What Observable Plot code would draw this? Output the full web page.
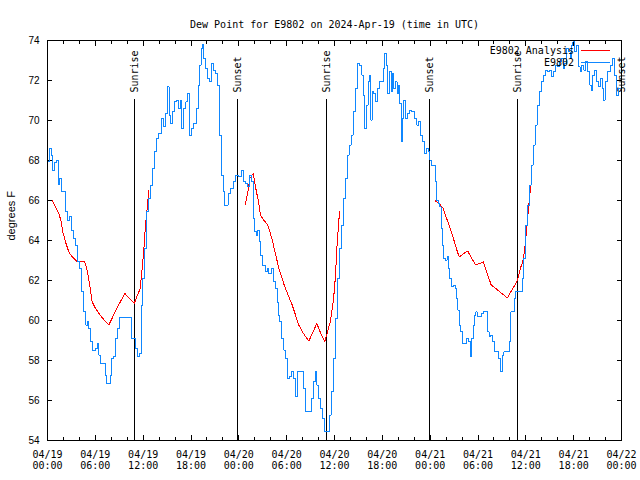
<!DOCTYPE html>
<html>
<head>
<meta charset="utf-8">
<script src="https://cdn.jsdelivr.net/npm/d3@7"></script>
<script src="https://cdn.jsdelivr.net/npm/@observablehq/plot@0.6"></script>
<style>
  body { margin: 0; background: #fff; }
  #wrap { position: relative; width: 640px; height: 480px; }
  #legend { position: absolute; left: 470px; top: 44px; font: 10px "DejaVu Sans Mono", monospace; color: #000; }
  .row { display: flex; align-items: center; height: 12px; }
  .row span { display: inline-block; width: 104px; text-align: right; white-space: pre; }
  .sw { width: 29px; height: 1px; margin-left: 7px; }
</style>
</head>
<body>
<div id="wrap"></div>
<script>
// ---- data (hours since 2024-04-19 00:00 UTC, degrees F) ----
const titleText = "Dew Point for E9802 on 2024-Apr-19 (time in UTC)";
const yLabel = "degrees F";
const seriesNames = ["E9802 Analysis", "E9802"];
const yTicks = [54, 56, 58, 60, 62, 64, 66, 68, 70, 72, 74];
const xMajorHours = [0, 6, 12, 18, 24, 30, 36, 42, 48, 54, 60, 66, 72];
const xMinorHours = [0,2,4,6,8,10,12,14,16,18,20,22,24,26,28,30,32,34,36,38,40,42,44,46,48,50,52,54,56,58,60,62,64,66,68,70,72];
const sunHours = [10.95, 23.87, 35.04, 47.96, 58.99, 72.0];
const sunLabels = ["Sunrise", "Sunset", "Sunrise", "Sunset", "Sunrise", "Sunset"];

const observed = [
[0.09,67.93],[0.34,68.6],[0.59,68.27],[0.75,67.5],[1.00,67.9],[1.22,68.0],[1.42,66.8],[1.59,67.1],[1.84,66.45],[2.17,66.45],
[2.42,65.43],[2.67,65.0],[2.92,65.2],[3.10,64.5],[3.35,64.1],[3.60,63.77],[3.85,62.93],[4.18,62.6],[4.43,61.43],[4.68,60.43],
[4.93,59.77],[5.11,59.93],[5.27,59.6],[5.52,58.93],[5.77,58.52],[6.27,58.6],[6.36,58.85],[6.52,58.27],[6.69,57.85],[7.19,57.85],
[7.36,57.27],[7.53,56.85],[7.78,56.85],[7.94,57.27],[8.19,58.1],[8.44,58.2],[8.62,59.1],[8.87,59.6],[9.19,60.13],[10.45,60.13],
[10.62,59.1],[10.95,59.1],[11.20,58.6],[11.45,58.18],[11.70,58.35],[11.88,60.77],[12.04,62.1],[12.29,63.6],[12.54,65.43],[12.79,66.1],
[13.05,66.77],[13.30,67.6],[13.55,68.43],[13.80,69.1],[14.14,69.35],[14.42,70.1],[14.68,69.68],[14.93,70.35],[15.18,71.68],[15.34,70.27],
[15.52,69.85],[15.77,70.43],[16.02,70.93],[16.27,71.02],[16.52,70.6],[16.77,71.0],[16.93,69.6],[17.19,70.6],[17.52,70.93],[17.69,71.35],
[17.94,69.27],[18.19,69.6],[18.53,69.85],[18.78,70.6],[19.03,71.77],[19.19,72.77],[19.36,73.6],[19.53,73.8],[19.69,73.1],[19.95,72.6],
[20.20,72.1],[20.45,71.93],[20.70,72.85],[20.95,72.52],[21.20,72.35],[21.45,71.77],[21.70,69.27],[21.95,67.27],[22.12,66.43],[22.29,65.77],
[22.54,65.77],[22.79,66.35],[23.12,66.6],[23.46,66.93],[23.80,67.27],[24.12,67.18],[24.46,67.52],[24.71,66.93],[24.96,66.85],[25.21,66.68],
[25.46,67.27],[25.72,66.93],[25.88,65.1],[26.13,64.43],[26.31,64.27],[26.47,64.52],[26.63,63.93],[26.81,63.27],[27.06,62.77],[27.31,62.77],
[27.47,62.43],[27.64,62.6],[27.89,62.35],[28.22,62.6],[28.47,61.93],[28.73,61.6],[28.89,60.9],[29.01,60.27],[29.27,59.93],[29.52,59.1],
[29.77,58.52],[30.02,58.1],[30.27,57.1],[30.44,57.18],[30.70,57.43],[30.95,57.1],[31.20,56.18],[31.45,57.43],[31.95,57.43],[32.20,56.6],
[32.45,55.43],[32.95,55.43],[33.20,56.1],[33.53,56.93],[33.71,57.43],[33.87,56.77],[34.12,56.1],[34.37,55.6],[34.62,55.1],[34.78,54.43],
[35.21,54.43],[35.46,55.27],[35.71,56.43],[35.96,58.1],[36.21,60.1],[36.47,62.1],[36.72,63.6],[36.97,64.77],[37.22,66.1],[37.47,67.1],
[37.72,68.27],[37.97,68.77],[38.22,69.27],[38.47,70.43],[38.72,71.6],[38.97,72.85],[39.30,72.77],[39.55,72.27],[39.73,71.27],[39.89,69.6],
[40.14,70.77],[40.30,71.93],[40.48,72.27],[40.64,70.02],[40.81,71.43],[41.06,71.35],[41.23,70.93],[41.48,71.6],[41.73,71.93],[41.98,71.93],
[42.24,72.6],[42.40,73.35],[42.56,72.77],[42.81,71.35],[43.06,72.43],[43.20,71.43],[43.30,72.35],[43.53,71.6],[43.78,71.93],[43.94,71.35],
[44.12,71.77],[44.28,70.85],[44.44,68.93],[44.62,70.1],[44.78,71.02],[45.03,70.1],[45.28,70.35],[45.54,70.52],[45.87,70.43],[46.20,70.1],
[46.45,69.77],[46.70,69.93],[46.88,69.27],[47.13,68.93],[47.38,68.35],[47.63,68.6],[47.88,68.43],[48.04,68.02],[48.29,67.77],[48.55,67.77],
[48.71,66.93],[48.88,66.0],[49.13,65.85],[49.30,65.68],[49.46,64.6],[49.64,63.77],[49.80,63.1],[50.05,63.02],[50.21,63.18],[50.39,62.6],
[50.55,62.1],[50.80,61.68],[51.05,61.77],[51.22,61.6],[51.39,61.1],[51.56,60.52],[51.72,59.77],[51.97,59.43],[52.15,58.85],[52.47,58.85],
[52.72,59.1],[52.97,58.93],[53.15,58.18],[53.31,59.1],[53.48,59.77],[53.65,60.27],[53.81,60.43],[53.98,60.18],[54.32,60.18],[54.57,60.35],
[54.82,60.43],[55.16,60.43],[55.32,59.43],[55.48,59.18],[55.73,59.27],[55.98,58.93],[56.24,58.43],[56.49,58.43],[56.74,58.1],[56.99,57.43],
[57.16,58.27],[57.33,58.43],[57.87,58.43],[58.04,58.93],[58.21,60.43],[58.46,60.43],[58.62,61.1],[58.79,61.43],[59.46,61.43],[59.62,62.1],
[59.80,63.1],[60.05,64.77],[60.30,65.77],[60.55,66.77],[60.80,67.77],[61.05,68.77],[61.30,69.77],[61.55,70.77],[61.81,71.43],[62.06,71.93],
[62.31,72.27],[62.56,72.52],[62.81,72.43],[63.06,72.52],[63.31,72.18],[63.56,72.43],[63.81,72.77],[64.06,72.68],[64.31,72.93],[64.57,73.1],
[64.82,72.6],[64.98,72.85],[65.23,73.6],[65.48,73.43],[65.64,73.1],[65.82,73.77],[65.98,73.93],[66.23,73.43],[66.48,73.77],[66.73,72.68],
[66.90,72.43],[67.15,72.77],[67.40,72.52],[67.65,72.93],[67.90,72.43],[68.15,71.77],[68.33,71.52],[68.49,72.27],[68.74,72.52],[68.99,71.93],
[69.24,71.68],[69.49,72.1],[69.66,71.6],[69.83,71.02],[70.08,71.93],[70.34,72.43],[70.59,72.43],[70.75,72.77],[71.00,73.1],[71.25,72.27],
[71.50,71.27],[71.75,71.6],[71.92,71.6]
];

const analysis1 = [
[0.59,66.02],[1.00,65.68],[1.42,65.35],[1.67,65.02],[1.92,64.43],[2.26,63.93],[2.67,63.43],[3.10,63.18],[3.76,62.93],[4.68,62.93],
[5.02,62.43],[5.36,61.6],[5.61,60.93],[6.02,60.6],[6.77,60.18],[7.69,59.77],[8.69,60.6],[9.70,61.35],[10.70,60.93],[10.88,60.85],
[11.20,61.18],[11.63,61.6],[11.88,62.6],[12.13,63.77],[12.29,64.77],[12.54,65.77],[12.71,66.52]
];
const analysis2 = [
[24.80,65.77],[25.13,66.43],[25.38,67.1],[25.80,67.35],[26.13,66.6],[26.47,65.93],[26.72,65.27],[27.13,65.02],[27.64,64.77],[28.14,64.1],
[28.64,63.27],[29.01,62.6],[29.77,61.68],[30.70,60.77],[31.52,59.77],[32.11,59.35],[32.78,58.97],[33.78,59.85],[34.37,59.27],[34.78,58.93],
[35.12,59.43],[35.46,59.93],[35.79,60.77],[35.96,61.43],[36.13,62.27],[36.29,63.6],[36.47,64.6],[36.63,65.43]
];
const analysis3 = [
[48.63,65.98],[49.13,65.85],[49.64,65.6],[50.14,65.02],[50.80,64.27],[51.22,63.68],[51.64,63.18],[52.22,63.35],[52.72,63.47],[53.22,63.1],
[53.73,62.77],[54.66,62.93],[55.16,62.35],[55.66,61.77],[56.24,61.6],[56.99,61.35],[57.67,61.13],[58.12,61.43],[58.62,61.77],[58.96,62.02],
[59.30,62.6],[59.62,62.93],[59.87,63.6],[60.12,64.6],[60.37,65.77],[60.63,66.77]
];

// ---- build ----
const T0 = Date.UTC(2024, 3, 19);
const toDate = h => new Date(T0 + h * 3600000);
const obs = observed.map(([h, v]) => ({t: toDate(h), v}));
const ana = [analysis1, analysis2, analysis3].flatMap((s, i) => s.map(([h, v]) => ({t: toDate(h), v, seg: i})));
const sun = sunHours.map((h, i) => ({t: toDate(h), label: sunLabels[i]}));
const xMajor = xMajorHours.map(toDate);
const xMinor = xMinorHours.map(toDate);
const fmt = d3.utcFormat("%m/%d\n%H:%M");

const RED = "#ff0000", BLUE = "#0f87ff";
const MONO = "DejaVu Sans Mono";
const SANS = "Liberation Sans";

const chart = Plot.plot({
  width: 640, height: 480,
  marginLeft: 47, marginRight: 19, marginTop: 40, marginBottom: 40,
  style: {fontFamily: MONO, fontSize: "10px", background: "#fff", color: "#000", shapeRendering: "crispEdges"},
  x: {type: "utc", domain: [toDate(0), toDate(72)]},
  y: {domain: [54, 74]},
  marks: [
    Plot.axisX(xMinor, {anchor: "bottom", tickSize: -3, tickFormat: () => "", label: null}),
    Plot.axisX(xMinor, {anchor: "top", tickSize: -3, tickFormat: () => "", label: null}),
    Plot.axisX(xMajor, {anchor: "top", tickSize: -5, tickFormat: () => "", label: null}),
    Plot.axisX(xMajor, {anchor: "bottom", tickSize: -5, tickPadding: 15, tickFormat: fmt, lineHeight: 1.1, label: null, fontFamily: MONO, fontSize: 10}),
    Plot.axisY(yTicks, {anchor: "left", tickSize: -5, tickPadding: 13, label: null, fontFamily: SANS, fontSize: 10}),
    Plot.axisY(yTicks, {anchor: "right", tickSize: -5, tickFormat: () => "", label: null}),
    Plot.ruleX(sun, {x: "t", insetTop: 59, stroke: "#000"}),
    Plot.text(sun, {x: "t", text: "label", frameAnchor: "top", dx: -4, dy: 52, rotate: -90, textAnchor: "start", fontFamily: MONO, fontSize: 10}),
    Plot.line(ana, {x: "t", y: "v", z: "seg", stroke: RED, strokeWidth: 1}),
    Plot.line(obs, {x: "t", y: "v", stroke: BLUE, strokeWidth: 1, curve: "step"}),
    Plot.frame({stroke: "#000"}),
    Plot.text([titleText], {frameAnchor: "top", dy: -20, fontFamily: MONO, fontSize: 10}),
    Plot.text([yLabel], {frameAnchor: "left", dx: -36, rotate: -90, fontFamily: SANS, fontSize: 11})
  ]
});
const wrap = document.getElementById("wrap");
wrap.appendChild(chart);

const legend = document.createElement("div");
legend.id = "legend";
legend.innerHTML = seriesNames.map((n, i) =>
  `<div class="row"><span>${n}</span><div class="sw" style="background:${i === 0 ? RED : BLUE}"></div></div>`).join("");
wrap.appendChild(legend);
</script>
</body>
</html>
